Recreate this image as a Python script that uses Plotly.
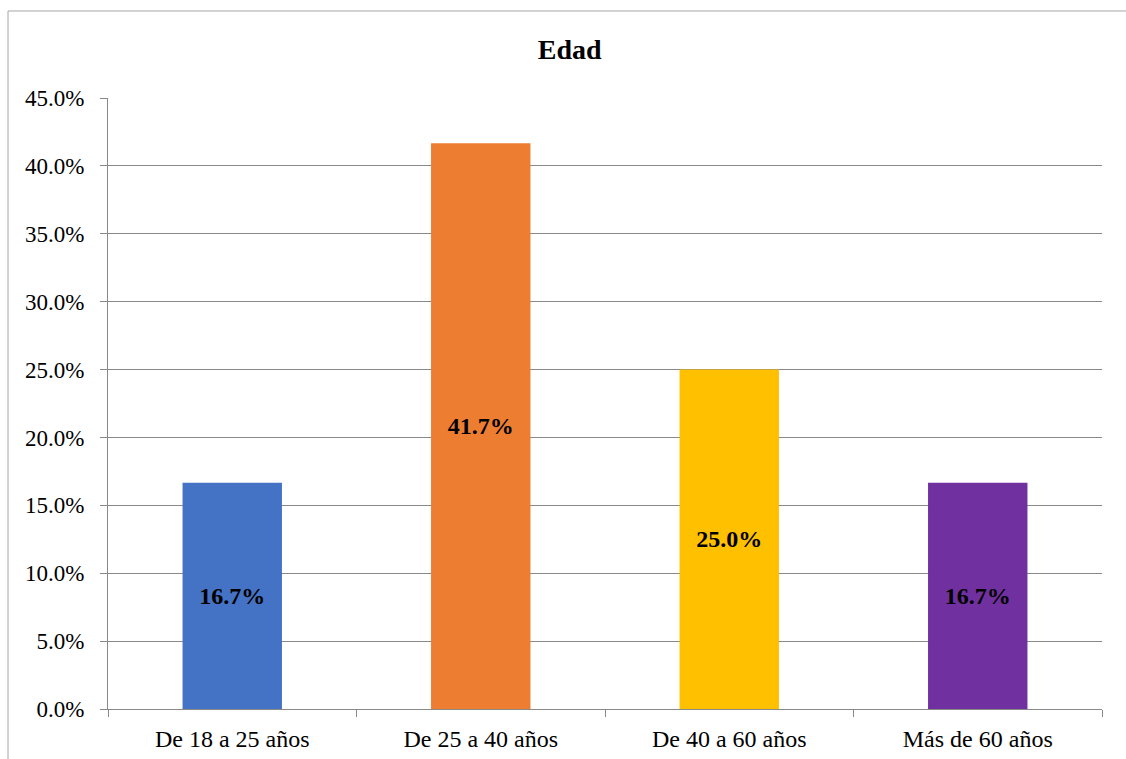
import plotly.graph_objects as go

categories = ["De 18 a 25 años", "De 25 a 40 años", "De 40 a 60 años", "Más de 60 años"]
values = [0.1667, 0.4167, 0.25, 0.1667]
colors = ["#4472C4", "#ED7D31", "#FFC000", "#7030A0"]

font_family = "Liberation Serif, Times New Roman, serif"

fig = go.Figure(go.Bar(
    x=categories,
    y=values,
    marker=dict(color=colors, line=dict(width=0)),
    width=0.4,
    texttemplate="<b>%{y:.1%}</b>",
    textposition="inside",
    insidetextanchor="middle",
    textangle=0,
    textfont=dict(family=font_family, size=24, color="black"),
))

fig.update_layout(
    width=1126, height=759,
    margin=dict(l=108, r=24, t=98, b=50),
    paper_bgcolor="white",
    plot_bgcolor="white",
    showlegend=False,
    title=dict(text="<b>Edad</b>", x=0.506, xanchor="center", y=0.935, yanchor="middle",
               font=dict(family=font_family, size=28, color="black")),
    font=dict(family=font_family, size=22, color="black"),
)

fig.update_xaxes(
    automargin=False,
    showline=True, linecolor="#898989", linewidth=1,
    ticks="outside", tickson="boundaries", ticklen=7, tickcolor="#898989",
    tickfont=dict(family=font_family, size=24, color="black"),
    ticklabelstandoff=8,
    showgrid=False,
)
fig.update_yaxes(
    automargin=False,
    range=[0, 0.45], dtick=0.05, tickformat=".1%",
    showline=True, linecolor="#898989", linewidth=1,
    ticks="outside", ticklen=7, tickcolor="#898989",
    showgrid=True, gridcolor="#898989", gridwidth=1,
    tickfont=dict(family=font_family, size=23, color="black"),
    ticklabelstandoff=11,
    zeroline=False,
)

# outer chart frame (left and top edges visible)
fig.add_shape(type="line", xref="paper", yref="paper",
              x0=-0.1006, x1=-0.1006, y0=1.1424, y1=-0.2,
              line=dict(color="#a6a6a6", width=1))
fig.add_shape(type="line", xref="paper", yref="paper",
              x0=-0.1006, x1=1.2, y0=1.1424, y1=1.1424,
              line=dict(color="#a6a6a6", width=1))

fig.write_html("out.html")
